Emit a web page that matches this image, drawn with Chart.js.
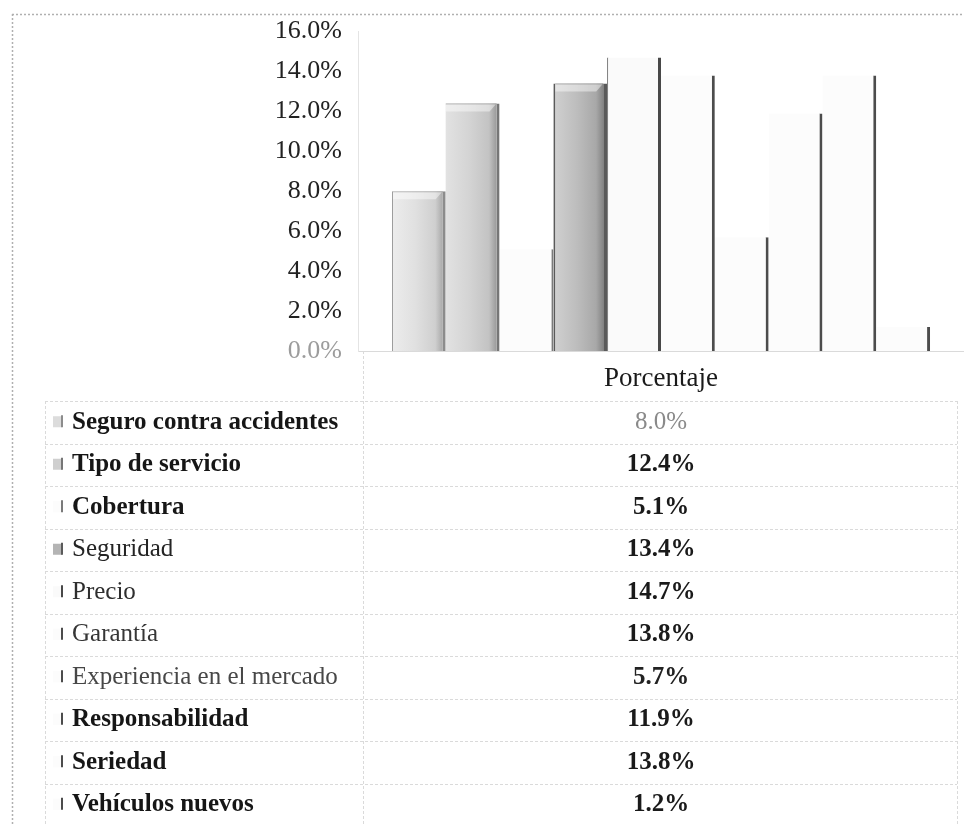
<!DOCTYPE html>
<html lang="es">
<head>
<meta charset="utf-8">
<title>Porcentaje</title>
<script src="https://cdn.jsdelivr.net/npm/chart.js@4.4.1/dist/chart.umd.min.js"></script>
<style>
  html, body { margin: 0; padding: 0; background: #fff; }
  #wrap { width: 964px; height: 826px; position: relative; }
</style>
</head>
<body>
<div id="wrap"><canvas id="chart"></canvas></div>
<script>
const categories = ['Porcentaje'];
const seriesNames = [
  'Seguro contra accidentes',
  'Tipo de servicio',
  'Cobertura',
  'Seguridad',
  'Precio',
  'Garantía',
  'Experiencia en el mercado',
  'Responsabilidad',
  'Seriedad',
  'Vehículos nuevos'
];
const seriesValues = [8.0, 12.4, 5.1, 13.4, 14.7, 13.8, 5.7, 11.9, 13.8, 1.2];
const yMax = 16;
const yStep = 2;

// bar look: base fill, edge colour, edge widths, optional shading stops
const barFill  = ['#dcdcdc', '#cfcfcf', '#fcfcfc', '#b4b4b4', '#fafafa', '#fcfcfc', '#fcfcfc', '#fcfcfc', '#fcfcfc', '#fcfcfc'];
const barEdge  = ['#8c8c8c', '#767676', '#7a7a7a', '#5a5a5a', '#484848', '#4c4c4c', '#4c4c4c', '#4c4c4c', '#4c4c4c', '#4c4c4c'];
const edgeLeft = [1, 0, 0, 2, 1, 0, 0, 0, 0, 0];
const edgeRight = [3, 3, 2, 4, 3, 3, 3, 3, 3, 3];
const shading = [
  ['#ececec', '#e0e0e0', '#cfcfcf', '#a9a9a9'],
  ['#e2e2e2', '#d4d4d4', '#c3c3c3', '#9a9a9a'],
  null,
  ['#cfcfcf', '#bdbdbd', '#a8a8a8', '#858585'],
  null, null, null, null, null, null
];
// table text weight / tone per row
const labelBold = [true, true, true, false, false, false, false, true, true, true];
const labelTone = ['#161616', '#161616', '#161616', '#242424', '#2e2e2e', '#363636', '#474747', '#161616', '#161616', '#161616'];
const valueBold = [false, true, true, true, true, true, true, true, true, true];
const valueTone = ['#8a8a8a', '#1a1a1a', '#1a1a1a', '#1a1a1a', '#1a1a1a', '#1a1a1a', '#222', '#1a1a1a', '#1a1a1a', '#1a1a1a'];

const SERIF = '"Liberation Serif", "Times New Roman", serif';
const fmt = v => v.toFixed(1) + '%';

const datasets = seriesNames.map((name, i) => ({
  label: name,
  data: [seriesValues[i]],
  backgroundColor: barFill[i],
  borderColor: barEdge[i],
  borderWidth: { left: edgeLeft[i], right: edgeRight[i], top: 0, bottom: 0 },
  borderSkipped: 'start',
  shade: shading[i]
}));

// white page with the dotted scan frame
const page = {
  id: 'page',
  beforeDraw(chart) {
    const c = chart.ctx;
    c.save();
    c.fillStyle = '#fff';
    c.fillRect(0, 0, chart.width, chart.height);
    c.strokeStyle = '#b0b0b0';
    c.setLineDash([2, 2]);
    c.lineWidth = 1.5;
    c.beginPath();
    c.moveTo(12, 14.5); c.lineTo(chart.width, 14.5);
    c.moveTo(12.5, 14); c.lineTo(12.5, chart.height);
    c.stroke();
    c.restore();
  }
};

// gradient and top bevel over the shaded bars
const bevel = {
  id: 'bevel',
  afterDatasetsDraw(chart) {
    const c = chart.ctx;
    chart.data.datasets.forEach((ds, i) => {
      if (!ds.shade) return;
      const bar = chart.getDatasetMeta(i).data[0];
      const l = bar.x - bar.width / 2 + edgeLeft[i];
      const r = bar.x + bar.width / 2 - edgeRight[i];
      const t = bar.y, b = bar.base;
      const g = c.createLinearGradient(l, 0, r, 0);
      g.addColorStop(0, ds.shade[0]);
      g.addColorStop(0.45, ds.shade[1]);
      g.addColorStop(0.85, ds.shade[2]);
      g.addColorStop(1, ds.shade[3]);
      c.save();
      c.fillStyle = g;
      c.fillRect(l, t, r - l, b - t);
      c.fillStyle = 'rgba(255,255,255,0.45)';
      c.beginPath();
      c.moveTo(l, t); c.lineTo(r, t); c.lineTo(r - 7, t + 8); c.lineTo(l, t + 8);
      c.closePath();
      c.fill();
      c.strokeStyle = 'rgba(90,90,90,0.35)';
      c.lineWidth = 1;
      c.beginPath();
      c.moveTo(l, t + 0.5); c.lineTo(r, t + 0.5);
      c.stroke();
      c.restore();
    });
  }
};

// data table under the axis: one row per series
const dataTable = {
  id: 'dataTable',
  afterDraw(chart) {
    const c = chart.ctx;
    const x = chart.scales.x;
    const top = 401, rowH = 42.5;
    const left = 45, split = 363, right = 957;
    const bottom = top + rowH * seriesNames.length;
    c.save();
    c.strokeStyle = '#dadada';
    c.lineWidth = 1;
    c.setLineDash([3, 2]);
    c.beginPath();
    for (let k = 0; k <= seriesNames.length; k++) {
      const y = Math.round(top + rowH * k) + 0.5;
      c.moveTo(left, y); c.lineTo(right, y);
    }
    c.moveTo(split + 0.5, chart.chartArea.bottom); c.lineTo(split + 0.5, bottom);
    c.moveTo(right + 0.5, top); c.lineTo(right + 0.5, bottom);
    c.moveTo(left + 0.5, top); c.lineTo(left + 0.5, bottom);
    c.stroke();
    c.setLineDash([]);

    const cx = x.getPixelForValue(0);
    seriesNames.forEach((name, i) => {
      const cy = top + rowH * i + rowH / 2;
      // legend key
      c.fillStyle = barFill[i];
      c.fillRect(53, cy - 6, 9, 11);
      c.fillStyle = barEdge[i];
      c.fillRect(61, cy - 7, 2, 12);
      // label
      c.textBaseline = 'middle';
      c.textAlign = 'left';
      c.fillStyle = labelTone[i];
      c.font = (labelBold[i] ? 'bold ' : '') + '25px ' + SERIF;
      c.fillText(name, 72, cy);
      // value
      c.textAlign = 'center';
      c.fillStyle = valueTone[i];
      c.font = (valueBold[i] ? 'bold ' : '') + '25px ' + SERIF;
      c.fillText(fmt(seriesValues[i]), cx, cy);
    });
    c.restore();
  }
};

new Chart(document.getElementById('chart'), {
  type: 'bar',
  data: { labels: categories, datasets },
  plugins: [page, bevel, dataTable],
  options: {
    responsive: true,
    maintainAspectRatio: false,
    animation: false,
    devicePixelRatio: 1,
    layout: { padding: { top: 28, right: 0, bottom: 425, left: 0 } },
    datasets: { bar: { barPercentage: 1, categoryPercentage: 0.888 } },
    plugins: { legend: { display: false }, tooltip: { enabled: false } },
    scales: {
      x: {
        grid: { display: false, drawTicks: false },
        border: { color: '#dadada' },
        ticks: { color: '#1a1a1a', padding: 12, font: { family: SERIF, size: 27 } },
        afterFit(s) { s.height = 50; }
      },
      y: {
        min: 0,
        max: yMax,
        grid: { display: false, drawTicks: false },
        border: { color: '#e4e4e4', dash: [2, 3] },
        ticks: {
          stepSize: yStep,
          padding: 16,
          font: { family: SERIF, size: 26 },
          color: ctx => ctx.tick.value === 0 ? '#9c9c9c' : '#222',
          callback: v => fmt(v)
        },
        afterFit(s) { s.width = 358; }
      }
    }
  }
});
</script>
</body>
</html>
